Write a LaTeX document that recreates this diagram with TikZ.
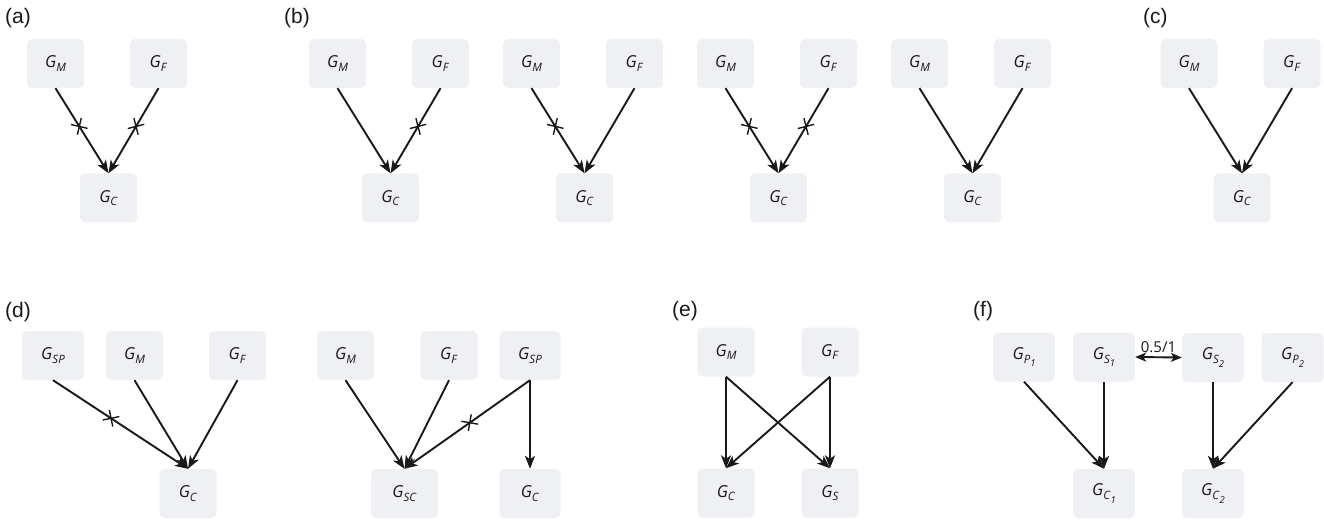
\documentclass[tikz,border=0pt]{standalone}
\usepackage{fontspec}
\setmainfont{Open Sans}
\newfontfamily\labfont{Liberation Sans}
\usetikzlibrary{arrows.meta,decorations.markings}
\definecolor{boxgray}{RGB}{239,240,243}
\definecolor{inkc}{RGB}{25,25,25}
\newcommand{\Gx}[1]{\textit{G}\raisebox{-0.22em}{\fontsize{11.5}{12}\selectfont\textit{#1}}}
\newcommand{\Gxx}[2]{\textit{G}\raisebox{-0.22em}{\fontsize{11.5}{12}\selectfont\textit{#1}\raisebox{-0.3em}{\fontsize{9.5}{10}\selectfont\textit{#2}}}}
\tikzset{
  gbox/.style={fill=boxgray, rounded corners=5pt, minimum width=57pt, minimum height=49pt, inner sep=0pt, text=inkc, font=\fontsize{16.5}{18}\selectfont},
  wbox/.style={gbox, minimum width=62pt},
  arr/.style={draw=inkc, line width=1.9pt, -{Stealth[length=13pt,width=10pt,inset=3.5pt]}},
  darr/.style={draw=inkc, line width=1.9pt, {Stealth[length=11pt,width=9pt,inset=3pt]}-{Stealth[length=11pt,width=9pt,inset=3pt]}},
  blk/.style={postaction={decorate}, decoration={markings, mark=at position #1 with {\draw[-, inkc, line width=1.4pt] (-6pt,-6pt)--(6pt,6pt) (-6pt,6pt)--(6pt,-6pt);}}},
  blk/.default=0.45,
  plabel/.style={anchor=west, inner sep=0pt, text=inkc, font=\labfont\fontsize{21}{24}\selectfont}
}
\begin{document}
\begin{tikzpicture}[x=1pt,y=-1pt]
\useasboundingbox (0,0) rectangle (1324,521);
% panel labels
\node[plabel] (la) at (5,18) {(a)};
\node[plabel] (lb) at (284,18) {(b)};
\node[plabel] (lc) at (1143,18) {(c)};
\node[plabel] (ld) at (5,312) {(d)};
\node[plabel] (le) at (672,311) {(e)};
\node[plabel] (lf) at (973,311) {(f)};
% (a)
\node[gbox] (aM) at (55.5,63.5) {\Gx{M}};
\node[gbox] (aF) at (158.5,63.5) {\Gx{F}};
\node[gbox] (aC) at (108.5,198) {\Gx{C}};
\draw[arr,blk] (aM.south) -- (aC.north);
\draw[arr,blk] (aF.south) -- (aC.north);
% (b1)
\node[gbox] (b1M) at (337.5,63.5) {\Gx{M}};
\node[gbox] (b1F) at (440.5,63.5) {\Gx{F}};
\node[gbox] (b1C) at (390.5,198) {\Gx{C}};
\draw[arr] (b1M.south) -- (b1C.north);
\draw[arr,blk] (b1F.south) -- (b1C.north);
% (b2)
\node[gbox] (b2M) at (531.5,63.5) {\Gx{M}};
\node[gbox] (b2F) at (634.5,63.5) {\Gx{F}};
\node[gbox] (b2C) at (584.5,198) {\Gx{C}};
\draw[arr,blk] (b2M.south) -- (b2C.north);
\draw[arr] (b2F.south) -- (b2C.north);
% (b3)
\node[gbox] (b3M) at (725.5,63.5) {\Gx{M}};
\node[gbox] (b3F) at (828.5,63.5) {\Gx{F}};
\node[gbox] (b3C) at (778.5,198) {\Gx{C}};
\draw[arr,blk] (b3M.south) -- (b3C.north);
\draw[arr,blk] (b3F.south) -- (b3C.north);
% (b4)
\node[gbox] (b4M) at (919.5,63.5) {\Gx{M}};
\node[gbox] (b4F) at (1022.5,63.5) {\Gx{F}};
\node[gbox] (b4C) at (972.5,198) {\Gx{C}};
\draw[arr] (b4M.south) -- (b4C.north);
\draw[arr] (b4F.south) -- (b4C.north);
% (c)
\node[gbox] (cM) at (1189,63.5) {\Gx{M}};
\node[gbox] (cF) at (1292,63.5) {\Gx{F}};
\node[gbox] (cC) at (1242,198) {\Gx{C}};
\draw[arr] (cM.south) -- (cC.north);
\draw[arr] (cF.south) -- (cC.north);
% (d1)
\node[wbox] (dSP) at (53,355.5) {\Gx{SP}};
\node[gbox] (dM) at (134.5,355.5) {\Gx{M}};
\node[gbox] (dF) at (237.5,355.5) {\Gx{F}};
\node[gbox] (dC) at (188,493.5) {\Gx{C}};
\draw[arr,blk=0.43] (dSP.south) -- (dC.north);
\draw[arr] (dM.south) -- (dC.north);
\draw[arr] (dF.south) -- (dC.north);
% (d2)
\node[gbox] (eM) at (345.5,355.5) {\Gx{M}};
\node[gbox] (eF) at (449,355.5) {\Gx{F}};
\node[gbox, minimum width=61pt] (eSP) at (530,355.5) {\Gx{SP}};
\node[gbox, minimum width=67pt] (eSC) at (404.5,493.5) {\Gx{SC}};
\node[gbox, minimum width=61pt] (eC) at (530,493.5) {\Gx{C}};
\draw[arr] (eM.south) -- (eSC.north);
\draw[arr] (eF.south) -- (eSC.north);
\draw[arr,blk=0.48] (eSP.south) -- (eSC.north);
\draw[arr] (eSP.south) -- (eC.north);
% (e)
\node[gbox] (fM) at (726,352) {\Gx{M}};
\node[gbox] (fF) at (830,352) {\Gx{F}};
\node[gbox] (fC) at (726,493) {\Gx{C}};
\node[gbox] (fS) at (830,493) {\Gx{S}};
\draw[arr] (fM.south) -- (fC.north);
\draw[arr] (fM.south) -- (fS.north);
\draw[arr] (fF.south) -- (fS.north);
\draw[arr] (fF.south) -- (fC.north);
% (f)
\node[wbox] (gP1) at (1024,357) {\Gxx{P}{1}};
\node[wbox] (gS1) at (1104,357) {\Gxx{S}{1}};
\node[wbox] (gS2) at (1213,357.5) {\Gxx{S}{2}};
\node[wbox] (gP2) at (1292.5,357.5) {\Gxx{P}{2}};
\node[wbox] (gC1) at (1104,493.5) {\Gxx{C}{1}};
\node[wbox] (gC2) at (1213,493.5) {\Gxx{C}{2}};
\draw[darr] (gS1.east) -- node[above=4pt, text=inkc, font=\fontsize{15}{16}\selectfont, inner sep=0pt] {0.5/1} (gS2.west);
\draw[arr] (gP1.south) -- (gC1.north);
\draw[arr] (gS1.south) -- (gC1.north);
\draw[arr] (gS2.south) -- (gC2.north);
\draw[arr] (gP2.south) -- (gC2.north);
\end{tikzpicture}
\end{document}
